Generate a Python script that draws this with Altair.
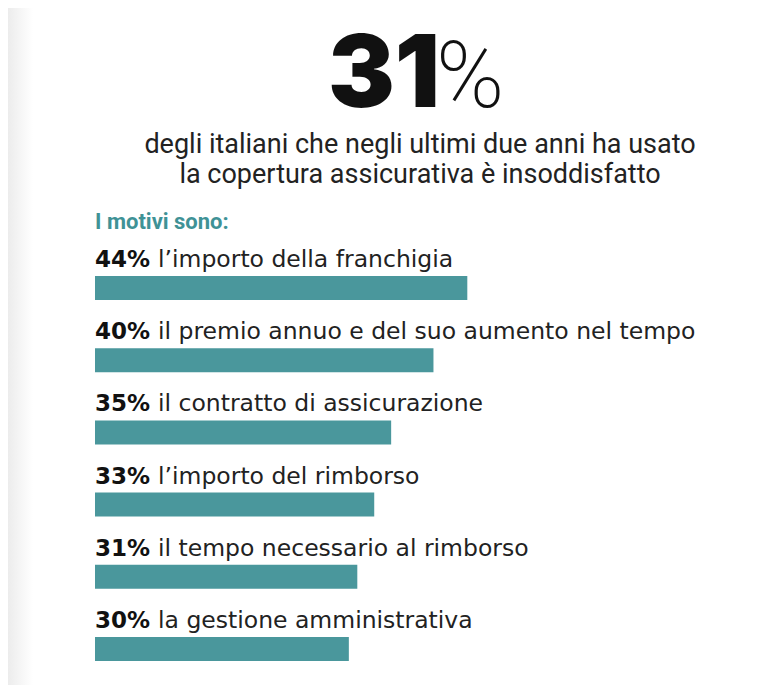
import altair as alt
import pandas as pd

percents = [44, 40, 35, 33, 31, 30]
pct_labels = ["44%", "40%", "35%", "33%", "31%", "30%"]
descriptions = [
    "l\u2019importo della franchigia",
    "il premio annuo e del suo aumento nel tempo",
    "il contratto di assicurazione",
    "l\u2019importo del rimborso",
    "il tempo necessario al rimborso",
    "la gestione amministrativa",
]
headline_num = "31"
headline_sign = "%"
subtitle = [
    "degli italiani che negli ultimi due anni ha usato",
    "la copertura assicurativa \u00e8 insoddisfatto",
]
section_title = "I motivi sono:"

TEAL = "#4a979c"

df = pd.DataFrame({
    "order": list(range(len(percents))),
    "value": percents,
    "pct": pct_labels,
    "desc": descriptions,
})

x = alt.X("value:Q", scale=alt.Scale(domain=[0, 78]), axis=None)
y = alt.Y("order:O", scale=alt.Scale(paddingInner=0, paddingOuter=0), axis=None)

base = alt.Chart(df)

bars = base.mark_bar(color=TEAL, size=24, cornerRadius=0).encode(x=x, y=y)

pct_text = base.mark_text(
    align="left", baseline="middle", dy=-28, font="DejaVu Sans",
    fontWeight="bold", fontSize=23, color="#111111"
).encode(x=alt.value(0), y=y, text="pct:N")

desc_text = base.mark_text(
    align="left", baseline="middle", dy=-28, font="DejaVu Sans",
    fontSize=23.5, color="#222222"
).encode(x=alt.value(63), y=y, text="desc:N")

head_df = pd.DataFrame({"t": [headline_num]})
num = alt.Chart(head_df).mark_text(
    align="right", baseline="alphabetic", font="Inter", fontWeight=900,
    fontSize=100, color="#111111"
).encode(x=alt.value(345), y=alt.value(-145), text="t:N")

sign = alt.Chart(pd.DataFrame({"t": [headline_sign]})).mark_text(
    align="left", baseline="alphabetic", font="Roboto", fontWeight=200,
    fontSize=92, color="#111111"
).encode(x=alt.value(341), y=alt.value(-145), text="t:N")

sub1 = alt.Chart(pd.DataFrame({"t": [subtitle[0]]})).mark_text(
    align="center", baseline="middle", font="Roboto", fontSize=27, color="#222222"
).encode(x=alt.value(325), y=alt.value(-107), text="t:N")

sub2 = alt.Chart(pd.DataFrame({"t": [subtitle[1]]})).mark_text(
    align="center", baseline="middle", font="Roboto", fontSize=27, color="#222222"
).encode(x=alt.value(325), y=alt.value(-77), text="t:N")

sec = alt.Chart(pd.DataFrame({"t": [section_title]})).mark_text(
    align="left", baseline="middle", font="Roboto", fontWeight="bold",
    fontSize=22, color="#3f9296"
).encode(x=alt.value(0), y=alt.value(-30), text="t:N")

strip = alt.Chart(pd.DataFrame({"t": [0]})).mark_rect(
    color=alt.LinearGradient(
        gradient="linear", x1=0, x2=1, y1=0, y2=0,
        stops=[alt.GradientStop(color="#ececec", offset=0),
               alt.GradientStop(color="#ffffff", offset=1)],
    )
).encode(x=alt.value(-87), x2=alt.value(-62), y=alt.value(-244), y2=alt.value(440))

chart = alt.layer(strip, bars, pct_text, desc_text, num, sign, sub1, sub2, sec).properties(
    width=660,
    height=433,
    padding={"left": 87, "top": 244, "right": 0, "bottom": 0},
    autosize=alt.AutoSizeParams(type="none"),
    background="white",
).configure_view(stroke=None)

chart.save("out.html", embed_options={"renderer": "svg", "actions": False})
